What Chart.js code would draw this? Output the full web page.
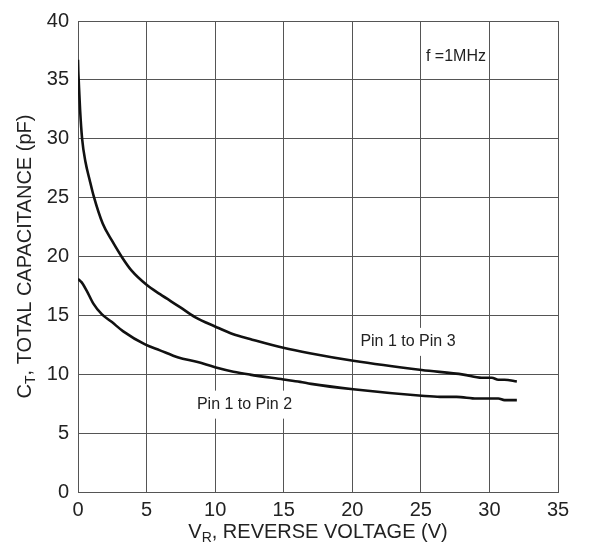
<!DOCTYPE html>
<html>
<head>
<meta charset="utf-8">
<script src="https://cdn.jsdelivr.net/npm/chart.js@4.4.1/dist/chart.umd.min.js"></script>
<style>
    html, body { margin: 0; padding: 0; background: #fff; }
    #wrap { width: 589px; height: 550px; }
</style>
</head>
<body>
<div id="wrap"><canvas id="chart" width="589" height="550"></canvas></div>
<script>
// Pin 1 to Pin 3 curve
const vr13 = [0, 0.02, 0.05, 0.15, 0.3, 0.55, 0.85, 1.15, 1.8, 2.5, 3.23, 3.91, 5.0, 5.98, 7.44, 8.53, 9.99, 11.33, 12.54, 14.97, 16.9, 20.07, 25.06, 28.1, 29.43, 30.17, 30.65, 31.1, 32.0];
const ct13 = [36.7, 35.8, 35.0, 32.5, 30.0, 28.0, 26.5, 25.1, 22.8, 21.3, 19.9, 18.8, 17.6, 16.8, 15.7, 14.85, 14.06, 13.4, 13.0, 12.25, 11.78, 11.14, 10.36, 9.97, 9.7, 9.7, 9.53, 9.53, 9.39];

// Pin 1 to Pin 2 curve
const vr12 = [0, 0.27, 0.63, 1.12, 1.73, 2.45, 3.3, 4.89, 5.98, 7.32, 8.65, 9.99, 11.33, 12.54, 14.97, 16.2, 17.0, 20.07, 25.06, 26.4, 27.6, 29.07, 30.65, 31.1, 32.0];
const ct12 = [18.1, 17.8, 17.1, 16.0, 15.1, 14.45, 13.64, 12.53, 12.03, 11.42, 11.06, 10.6, 10.22, 9.97, 9.56, 9.35, 9.18, 8.72, 8.17, 8.08, 8.08, 7.94, 7.94, 7.8, 7.8];

const xTicks = [0, 5, 10, 15, 20, 25, 30, 35];
const yTicks = [0, 5, 10, 15, 20, 25, 30, 35, 40];

// text labels placed in data units
const notes = [
    { text: 'Pin 1 to Pin 3', x: 24.06, y: 12.75, box: true },
    { text: 'Pin 1 to Pin 2', x: 12.14, y: 7.42, box: true },
    { text: 'f =1MHz', x: 27.56, y: 37, box: false }
];

const FONT = '"Liberation Sans", Arial, Helvetica, sans-serif';

function toPoints(xs, ys) {
    return xs.map((x, i) => ({ x: x, y: ys[i] }));
}

// draws text made of normal/subscript parts, centred on (cx, cy)
function drawParts(ctx, parts, cx, cy, size) {
    const subSize = Math.round(size * 0.7);
    let total = 0;
    parts.forEach(p => {
        ctx.font = (p.sub ? subSize : size) + 'px ' + FONT;
        p.w = ctx.measureText(p.t).width;
        total += p.w;
    });
    let x = cx - total / 2;
    ctx.textAlign = 'left';
    ctx.textBaseline = 'middle';
    parts.forEach(p => {
        ctx.font = (p.sub ? subSize : size) + 'px ' + FONT;
        ctx.fillText(p.t, x, p.sub ? cy + size * 0.32 : cy);
        x += p.w;
    });
}

const titlePlugin = {
    id: 'titles',
    beforeDatasetsDraw(chart) {
        const ctx = chart.ctx;
        const xs = chart.scales.x, ys = chart.scales.y;
        ctx.save();
        ctx.font = '16px ' + FONT;
        notes.forEach(n => {
            const px = xs.getPixelForValue(n.x);
            const py = ys.getPixelForValue(n.y);
            const w = ctx.measureText(n.text).width;
            if (n.box) {
                ctx.fillStyle = '#fff';
                ctx.fillRect(px - w / 2 - 4, py - 14, w + 8, 28);
            }
            ctx.fillStyle = '#222';
            ctx.textAlign = 'center';
            ctx.textBaseline = 'middle';
            ctx.fillText(n.text, px, py);
        });
        ctx.restore();
    },
    afterDraw(chart) {
        const ctx = chart.ctx;
        const area = chart.chartArea;
        ctx.save();
        ctx.fillStyle = '#222';
        drawParts(ctx, [{ t: 'V' }, { t: 'R', sub: true }, { t: ', REVERSE VOLTAGE (V)' }],
            (area.left + area.right) / 2, 532, 20);
        ctx.translate(25, (area.top + area.bottom) / 2);
        ctx.rotate(-Math.PI / 2);
        drawParts(ctx, [{ t: 'C' }, { t: 'T', sub: true }, { t: ', TOTAL CAPACITANCE (pF)' }], 0, 0, 20);
        ctx.restore();
    }
};

const ctx = document.getElementById('chart').getContext('2d');
new Chart(ctx, {
    type: 'line',
    data: {
        datasets: [
            {
                label: 'Pin 1 to Pin 3',
                data: toPoints(vr13, ct13),
                borderColor: '#111',
                borderWidth: 2.6,
                pointRadius: 0,
                cubicInterpolationMode: 'monotone',
                fill: false
            },
            {
                label: 'Pin 1 to Pin 2',
                data: toPoints(vr12, ct12),
                borderColor: '#111',
                borderWidth: 2.6,
                pointRadius: 0,
                cubicInterpolationMode: 'monotone',
                fill: false
            }
        ]
    },
    options: {
        responsive: false,
        animation: false,
        layout: { padding: { top: 12, right: 31, left: 0, bottom: 0 } },
        plugins: { legend: { display: false }, tooltip: { enabled: false } },
        scales: {
            x: {
                type: 'linear',
                min: 0,
                max: 35,
                afterFit(scale) { scale.height = 58; },
                afterBuildTicks(scale) { scale.ticks = xTicks.map(v => ({ value: v })); },
                grid: { color: '#555', lineWidth: 1, drawTicks: false },
                border: { color: '#555', width: 1 },
                ticks: { color: '#222', padding: 6, maxRotation: 0, font: { family: FONT, size: 20 } }
            },
            y: {
                min: 0,
                max: 40,
                afterFit(scale) { scale.width = 78; },
                afterBuildTicks(scale) { scale.ticks = yTicks.map(v => ({ value: v })); },
                grid: { color: '#555', lineWidth: 1, drawTicks: false },
                border: { color: '#555', width: 1 },
                ticks: { color: '#222', padding: 9, font: { family: FONT, size: 20 } }
            }
        }
    },
    plugins: [titlePlugin]
});
</script>
</body>
</html>
